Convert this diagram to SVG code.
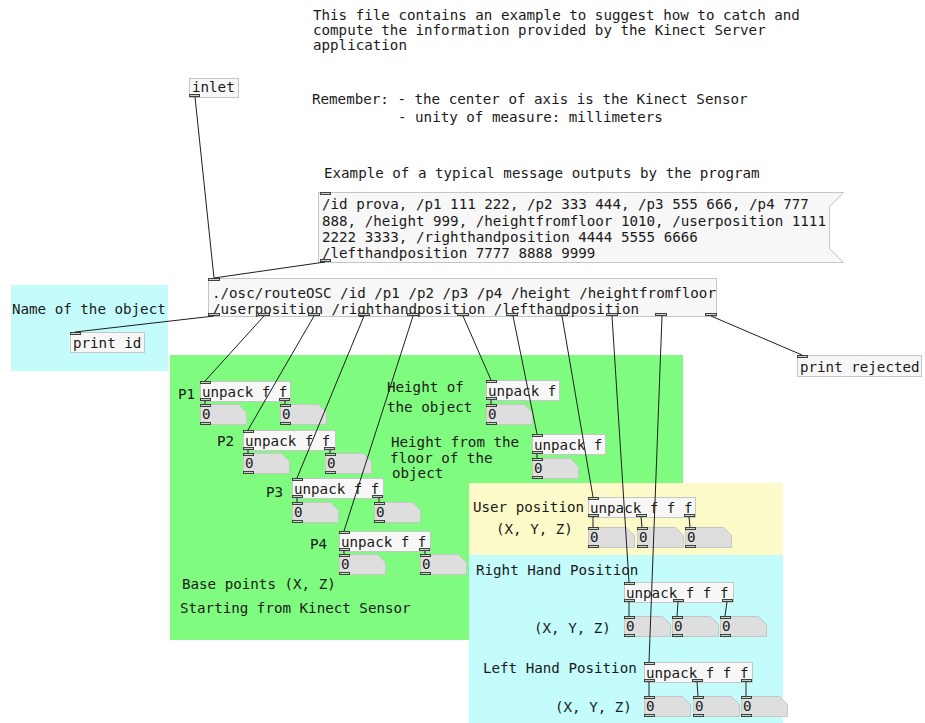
<svg xmlns="http://www.w3.org/2000/svg" width="925" height="723" viewBox="0 0 925 723">
  <style>
    .t { font-family: "DejaVu Sans Mono", "Liberation Mono", monospace; font-size: 14.2px; fill: #1a1a1a; }
    .box { fill: #f7f7f7; stroke: #c6c6c6; stroke-width: 1; }
    .num { fill: #dedede; stroke: #c6c6c6; stroke-width: 1; }
    .io { fill: #c9d0c9; stroke: #3a443a; stroke-width: 1; }
    .cord { stroke: #1e1e1e; stroke-width: 1; fill: none; }
  </style>
  <defs>
    <polygon id="numShape" class="num" points="0.5,0.5 38.5,0.5 46.5,8.5 46.5,20.5 0.5,20.5"/>
    <rect id="ioTop" class="io" x="0.5" y="0.5" width="10" height="2"/>
    <rect id="ioBot" class="io" x="0.5" y="18.5" width="10" height="2"/>
  </defs>

  <rect width="925" height="723" fill="#ffffff"/>

  <!-- coloured canvas areas -->
  <rect x="11" y="285" width="157" height="86" fill="#c4fcfc"/>
  <rect x="170" y="355" width="513" height="285" fill="#7ffb7f"/>
  <rect x="469" y="483" width="314" height="72" fill="#fcfac8"/>
  <rect x="469" y="555" width="314" height="168" fill="#c4fcfc"/>

  <!-- comments -->
  <g id="comments">
    <text class="t" x="313" y="20">This file contains an example to suggest how to catch and</text>
    <text class="t" x="313" y="35">compute the information provided by the Kinect Server</text>
    <text class="t" x="313" y="50">application</text>
    <text class="t" x="312" y="104">Remember: - the center of axis is the Kinect Sensor</text>
    <text class="t" x="398" y="122">- unity of measure: millimeters</text>
    <text class="t" x="324" y="178">Example of a typical message outputs by the program</text>
    <text class="t" x="12" y="314">Name of the object</text>
    <text class="t" x="178" y="399">P1</text>
    <text class="t" x="217" y="446">P2</text>
    <text class="t" x="266" y="497">P3</text>
    <text class="t" x="310" y="549">P4</text>
    <text class="t" x="387" y="392">Height of</text>
    <text class="t" x="387" y="412">the object</text>
    <text class="t" x="391" y="447">Height from the</text>
    <text class="t" x="390" y="463">floor of the</text>
    <text class="t" x="392" y="478">object</text>
    <text class="t" x="182" y="589">Base points (X, Z)</text>
    <text class="t" x="180" y="613">Starting from Kinect Sensor</text>
    <text class="t" x="473" y="512">User position</text>
    <text class="t" x="496" y="534">(X, Y, Z)</text>
    <text class="t" x="476" y="575">Right Hand Position</text>
    <text class="t" x="534" y="633">(X, Y, Z)</text>
    <text class="t" x="483" y="673">Left Hand Position</text>
    <text class="t" x="555" y="712">(X, Y, Z)</text>
  </g>

  <!-- inlet -->
  <g id="inlet" transform="translate(189,78)">
    <rect class="box" x="0.5" y="0.5" width="49" height="19"/>
    <text class="t" x="3" y="14">inlet</text>
    <rect class="io" x="0.5" y="16.5" width="10" height="2"/>
  </g>

  <!-- example message -->
  <g id="message" transform="translate(318,192)">
    <polygon class="box" points="0.5,0.5 525.5,0.5 511.5,14.5 511.5,56.5 525.5,70.5 0.5,70.5"/>
    <text class="t" x="4" y="17">/id prova, /p1 111 222, /p2 333 444, /p3 555 666, /p4 777</text>
    <text class="t" x="4" y="34">888, /height 999, /heightfromfloor 1010, /userposition 1111</text>
    <text class="t" x="4" y="50">2222 3333, /righthandposition 4444 5555 6666</text>
    <text class="t" x="4" y="66">/lefthandposition 7777 8888 9999</text>
    <rect class="io" x="2.5" y="0.5" width="10" height="2"/>
    <rect class="io" x="2.5" y="67.5" width="10" height="2"/>
  </g>

  <!-- routeOSC -->
  <g id="routeOSC" transform="translate(208,278)">
    <rect class="box" x="0.5" y="0.5" width="508" height="38"/>
    <text class="t" x="4" y="20">./osc/routeOSC /id /p1 /p2 /p3 /p4 /height /heightfromfloor</text>
    <text class="t" x="4" y="36">/userposition /righthandposition /lefthandposition</text>
    <rect class="io" x="0.5" y="0.5" width="11" height="2"/>
    <rect class="io" x="0.5" y="35.5" width="11" height="2"/>
    <rect class="io" x="50.5" y="35.5" width="11" height="2"/>
    <rect class="io" x="100.5" y="35.5" width="11" height="2"/>
    <rect class="io" x="150.5" y="35.5" width="11" height="2"/>
    <rect class="io" x="199.5" y="35.5" width="11" height="2"/>
    <rect class="io" x="249.5" y="35.5" width="11" height="2"/>
    <rect class="io" x="298.5" y="35.5" width="11" height="2"/>
    <rect class="io" x="348.5" y="35.5" width="11" height="2"/>
    <rect class="io" x="398.5" y="35.5" width="11" height="2"/>
    <rect class="io" x="447.5" y="35.5" width="11" height="2"/>
    <rect class="io" x="497.5" y="35.5" width="11" height="2"/>
  </g>

  <!-- printers -->
  <g id="print_id" transform="translate(70,332)">
    <rect class="box" x="0.5" y="0.5" width="74" height="20"/>
    <text class="t" x="3" y="16">print id</text>
    <rect class="io" x="0.5" y="0.5" width="10" height="2"/>
  </g>
  <g id="print_rejected" transform="translate(797,355)">
    <rect class="box" x="0.5" y="0.5" width="124" height="21"/>
    <text class="t" x="3" y="17">print rejected</text>
    <rect class="io" x="0.5" y="0.5" width="10" height="2"/>
  </g>

  <!-- unpack objects -->
  <g id="unpack_p1" transform="translate(200,381)">
    <rect class="box" x="0.5" y="0.5" width="90" height="20"/>
    <text class="t" x="2" y="16">unpack f f</text>
    <use href="#ioTop"/><rect class="io" x="0.5" y="17.5" width="10" height="2"/><rect class="io" x="79.5" y="17.5" width="10" height="2"/>
  </g>
  <g id="unpack_p2" transform="translate(243,430)">
    <rect class="box" x="0.5" y="0.5" width="92" height="20"/>
    <text class="t" x="2" y="16">unpack f f</text>
    <use href="#ioTop"/><rect class="io" x="0.5" y="17.5" width="10" height="2"/><rect class="io" x="81.5" y="17.5" width="10" height="2"/>
  </g>
  <g id="unpack_p3" transform="translate(292,478)">
    <rect class="box" x="0.5" y="0.5" width="91" height="20"/>
    <text class="t" x="2" y="16">unpack f f</text>
    <use href="#ioTop"/><rect class="io" x="0.5" y="17.5" width="10" height="2"/><rect class="io" x="80.5" y="17.5" width="10" height="2"/>
  </g>
  <g id="unpack_p4" transform="translate(339,531)">
    <rect class="box" x="0.5" y="0.5" width="91" height="20"/>
    <text class="t" x="2" y="16">unpack f f</text>
    <use href="#ioTop"/><rect class="io" x="0.5" y="17.5" width="10" height="2"/><rect class="io" x="80.5" y="17.5" width="10" height="2"/>
  </g>
  <g id="unpack_height" transform="translate(486,380)">
    <rect class="box" x="0.5" y="0.5" width="73" height="20"/>
    <text class="t" x="2" y="16">unpack f</text>
    <use href="#ioTop"/><rect class="io" x="0.5" y="17.5" width="10" height="2"/>
  </g>
  <g id="unpack_floor" transform="translate(532,434)">
    <rect class="box" x="0.5" y="0.5" width="73" height="20"/>
    <text class="t" x="2" y="16">unpack f</text>
    <use href="#ioTop"/><rect class="io" x="0.5" y="17.5" width="10" height="2"/>
  </g>
  <g id="unpack_user" transform="translate(588,497)">
    <rect class="box" x="0.5" y="0.5" width="107" height="20"/>
    <text class="t" x="2" y="16">unpack f f f</text>
    <use href="#ioTop"/><rect class="io" x="0.5" y="17.5" width="10" height="2"/><rect class="io" x="48.5" y="17.5" width="10" height="2"/><rect class="io" x="96.5" y="17.5" width="10" height="2"/>
  </g>
  <g id="unpack_right" transform="translate(624,582)">
    <rect class="box" x="0.5" y="0.5" width="109" height="20"/>
    <text class="t" x="2" y="16">unpack f f f</text>
    <use href="#ioTop"/><rect class="io" x="0.5" y="17.5" width="10" height="2"/><rect class="io" x="49.5" y="17.5" width="10" height="2"/><rect class="io" x="98.5" y="17.5" width="10" height="2"/>
  </g>
  <g id="unpack_left" transform="translate(644,662)">
    <rect class="box" x="0.5" y="0.5" width="108" height="20"/>
    <text class="t" x="2" y="16">unpack f f f</text>
    <use href="#ioTop"/><rect class="io" x="0.5" y="17.5" width="10" height="2"/><rect class="io" x="48.5" y="17.5" width="10" height="2"/><rect class="io" x="97.5" y="17.5" width="10" height="2"/>
  </g>

  <!-- number boxes -->
  <g id="num_p1x" transform="translate(200,404)"><use href="#numShape"/><text class="t" x="2" y="15">0</text><use href="#ioTop"/><use href="#ioBot"/></g>
  <g id="num_p1z" transform="translate(280,404)"><use href="#numShape"/><text class="t" x="2" y="15">0</text><use href="#ioTop"/><use href="#ioBot"/></g>
  <g id="num_p2x" transform="translate(243,453)"><use href="#numShape"/><text class="t" x="2" y="15">0</text><use href="#ioTop"/><use href="#ioBot"/></g>
  <g id="num_p2z" transform="translate(325,453)"><use href="#numShape"/><text class="t" x="2" y="15">0</text><use href="#ioTop"/><use href="#ioBot"/></g>
  <g id="num_p3x" transform="translate(292,502)"><use href="#numShape"/><text class="t" x="2" y="15">0</text><use href="#ioTop"/><use href="#ioBot"/></g>
  <g id="num_p3z" transform="translate(374,502)"><use href="#numShape"/><text class="t" x="2" y="15">0</text><use href="#ioTop"/><use href="#ioBot"/></g>
  <g id="num_p4x" transform="translate(339,554)"><use href="#numShape"/><text class="t" x="2" y="15">0</text><use href="#ioTop"/><use href="#ioBot"/></g>
  <g id="num_p4z" transform="translate(420,554)"><use href="#numShape"/><text class="t" x="2" y="15">0</text><use href="#ioTop"/><use href="#ioBot"/></g>
  <g id="num_height" transform="translate(486,404)"><use href="#numShape"/><text class="t" x="2" y="15">0</text><use href="#ioTop"/><use href="#ioBot"/></g>
  <g id="num_floor" transform="translate(532,458)"><use href="#numShape"/><text class="t" x="2" y="15">0</text><use href="#ioTop"/><use href="#ioBot"/></g>
  <g id="num_user_x" transform="translate(588,527)"><use href="#numShape"/><text class="t" x="2" y="15">0</text><use href="#ioTop"/><use href="#ioBot"/></g>
  <g id="num_user_y" transform="translate(637,527)"><use href="#numShape"/><text class="t" x="2" y="15">0</text><use href="#ioTop"/><use href="#ioBot"/></g>
  <g id="num_user_z" transform="translate(685,527)"><use href="#numShape"/><text class="t" x="2" y="15">0</text><use href="#ioTop"/><use href="#ioBot"/></g>
  <g id="num_right_x" transform="translate(624,616)"><use href="#numShape"/><text class="t" x="2" y="15">0</text><use href="#ioTop"/><use href="#ioBot"/></g>
  <g id="num_right_y" transform="translate(672,616)"><use href="#numShape"/><text class="t" x="2" y="15">0</text><use href="#ioTop"/><use href="#ioBot"/></g>
  <g id="num_right_z" transform="translate(720,616)"><use href="#numShape"/><text class="t" x="2" y="15">0</text><use href="#ioTop"/><use href="#ioBot"/></g>
  <g id="num_left_x" transform="translate(644,696)"><use href="#numShape"/><text class="t" x="2" y="15">0</text><use href="#ioTop"/><use href="#ioBot"/></g>
  <g id="num_left_y" transform="translate(693,696)"><use href="#numShape"/><text class="t" x="2" y="15">0</text><use href="#ioTop"/><use href="#ioBot"/></g>
  <g id="num_left_z" transform="translate(741,696)"><use href="#numShape"/><text class="t" x="2" y="15">0</text><use href="#ioTop"/><use href="#ioBot"/></g>

  <!-- patch cords -->
  <g id="connections" class="cord">
    <line x1="195" y1="97" x2="214" y2="278"/>
    <line x1="325" y1="262" x2="214" y2="278"/>
    <line x1="214" y1="316" x2="75" y2="332"/>
    <line x1="264" y1="316" x2="205" y2="381"/>
    <line x1="314" y1="316" x2="248" y2="430"/>
    <line x1="364" y1="316" x2="297" y2="478"/>
    <line x1="413" y1="316" x2="344" y2="531"/>
    <line x1="463" y1="316" x2="491" y2="380"/>
    <line x1="513" y1="316" x2="537" y2="434"/>
    <line x1="562" y1="316" x2="593" y2="497"/>
    <line x1="612" y1="316" x2="629" y2="582"/>
    <line x1="662" y1="316" x2="649" y2="662"/>
    <line x1="711" y1="316" x2="802" y2="355"/>
    <line x1="205" y1="401" x2="205" y2="404"/>
    <line x1="285" y1="401" x2="285" y2="404"/>
    <line x1="248" y1="450" x2="248" y2="453"/>
    <line x1="330" y1="450" x2="330" y2="453"/>
    <line x1="297" y1="498" x2="297" y2="502"/>
    <line x1="379" y1="498" x2="379" y2="502"/>
    <line x1="344" y1="551" x2="344" y2="554"/>
    <line x1="425" y1="551" x2="425" y2="554"/>
    <line x1="491" y1="400" x2="491" y2="404"/>
    <line x1="537" y1="454" x2="537" y2="458"/>
    <line x1="593" y1="517" x2="593" y2="527"/>
    <line x1="641" y1="517" x2="642" y2="527"/>
    <line x1="689" y1="517" x2="690" y2="527"/>
    <line x1="629" y1="602" x2="629" y2="616"/>
    <line x1="678" y1="602" x2="677" y2="616"/>
    <line x1="727" y1="602" x2="725" y2="616"/>
    <line x1="649" y1="682" x2="649" y2="696"/>
    <line x1="697" y1="682" x2="698" y2="696"/>
    <line x1="746" y1="682" x2="746" y2="696"/>
  </g>
</svg>
